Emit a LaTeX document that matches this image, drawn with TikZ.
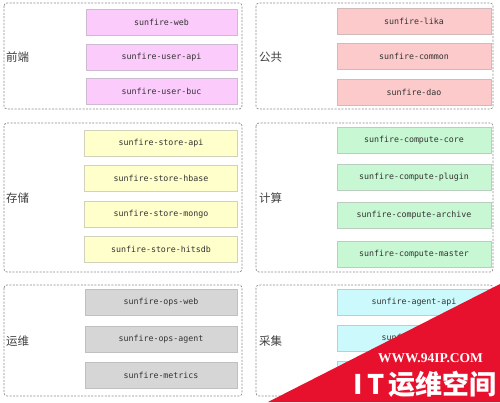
\documentclass[tikz,border=0pt]{standalone}
\usepackage{fontspec}
\setmonofont{DejaVu Sans Mono}
\newfontfamily\cjk{Noto Sans CJK SC}
\setmainfont{Liberation Serif}
\begin{document}
\begin{tikzpicture}[x=1pt,y=-1pt,
  grp/.style={draw=black!45,dash pattern=on 2pt off 1.4pt,line width=0.7pt,rounded corners=3pt},
  mod/.style={draw=#1!70!black!60,line width=0.8pt,fill=#1,inner sep=0pt,font=\ttfamily\fontsize{8.3}{10}\selectfont,text=black!80},
  lbl/.style={anchor=west,inner sep=0pt,font=\cjk\fontsize{11.5}{13}\selectfont,text=black!75}]
\definecolor{cpink}{HTML}{FBCBFB}
\definecolor{cred}{HTML}{FCCACA}
\definecolor{cyel}{HTML}{FFFFCC}
\definecolor{cgrn}{HTML}{C8F7D3}
\definecolor{cgry}{HTML}{D6D6D6}
\definecolor{ccyn}{HTML}{CCFAFC}
\definecolor{wmred}{HTML}{E8112D}
\useasboundingbox (0,0) rectangle (500,402);
\fill[white] (0,0) rectangle (500,402);
% groups
\draw[grp] (4,3) rectangle (242,109);
\draw[grp] (256,3) rectangle (493,109);
\draw[grp] (4,123) rectangle (242,272);
\draw[grp] (256,123) rectangle (493,272);
\draw[grp] (4,285) rectangle (242,396);
\draw[grp] (256,285) rectangle (493,396);
% labels
\node[lbl] (l1) at (6,57) {前端};
\node[lbl] (l2) at (259,57) {公共};
\node[lbl] (l3) at (6,198) {存储};
\node[lbl] (l4) at (259,198) {计算};
\node[lbl] (l5) at (6,341) {运维};
\node[lbl] (l6) at (259,341) {采集};
% row 1 left
\node[mod=cpink,minimum width=151pt,minimum height=26pt] (a1) at (161.5,22) {sunfire-web};
\node[mod=cpink,minimum width=151pt,minimum height=26pt] (a2) at (161.5,57.5) {sunfire-user-api};
\node[mod=cpink,minimum width=151pt,minimum height=26pt] (a3) at (161.5,91.5) {sunfire-user-buc};
% row 1 right
\node[mod=cred,minimum width=154pt,minimum height=26pt] (b1) at (414,21.5) {sunfire-lika};
\node[mod=cred,minimum width=154pt,minimum height=26pt] (b2) at (414,56.5) {sunfire-common};
\node[mod=cred,minimum width=154pt,minimum height=26pt] (b3) at (414,92) {sunfire-dao};
% row 2 left
\node[mod=cyel,minimum width=153pt,minimum height=26pt] (c1) at (161,143) {sunfire-store-api};
\node[mod=cyel,minimum width=153pt,minimum height=26pt] (c2) at (161,178.5) {sunfire-store-hbase};
\node[mod=cyel,minimum width=153pt,minimum height=26pt] (c3) at (161,214) {sunfire-store-mongo};
\node[mod=cyel,minimum width=153pt,minimum height=26pt] (c4) at (161,249.5) {sunfire-store-hitsdb};
% row 2 right
\node[mod=cgrn,minimum width=154pt,minimum height=26pt] (d1) at (414,140) {sunfire-compute-core};
\node[mod=cgrn,minimum width=154pt,minimum height=26pt] (d2) at (414,177) {sunfire-compute-plugin};
\node[mod=cgrn,minimum width=154pt,minimum height=26pt] (d3) at (414,215) {sunfire-compute-archive};
\node[mod=cgrn,minimum width=154pt,minimum height=26pt] (d4) at (414,254) {sunfire-compute-master};
% row 3 left
\node[mod=cgry,minimum width=152pt,minimum height=26pt] (e1) at (161,302.5) {sunfire-ops-web};
\node[mod=cgry,minimum width=152pt,minimum height=26pt] (e2) at (161,339) {sunfire-ops-agent};
\node[mod=cgry,minimum width=152pt,minimum height=26pt] (e3) at (161,375) {sunfire-metrics};
% row 3 right
\node[mod=ccyn,minimum width=154pt,minimum height=26pt] (f1) at (414,302) {sunfire-agent-api};
\node[mod=ccyn,minimum width=154pt,minimum height=26pt] (f2) at (414,338.5) {sunfire-agent};
\node[mod=ccyn,minimum width=154pt,minimum height=26pt] (f3) at (414,374) {};
% watermark
\fill[wmred] (268,402) -- (500,284) -- (500,402) -- cycle;
\node[text=white,font=\bfseries\fontsize{13.5}{15}\selectfont,inner sep=0pt] (w1) at (430.5,358) {WWW.94IP.COM};
\node[text=white,font=\cjk\bfseries\fontsize{27}{29}\selectfont,inner sep=0pt] (w2) at (425,384) {I\,T\,运维空间};
\end{tikzpicture}
\end{document}
